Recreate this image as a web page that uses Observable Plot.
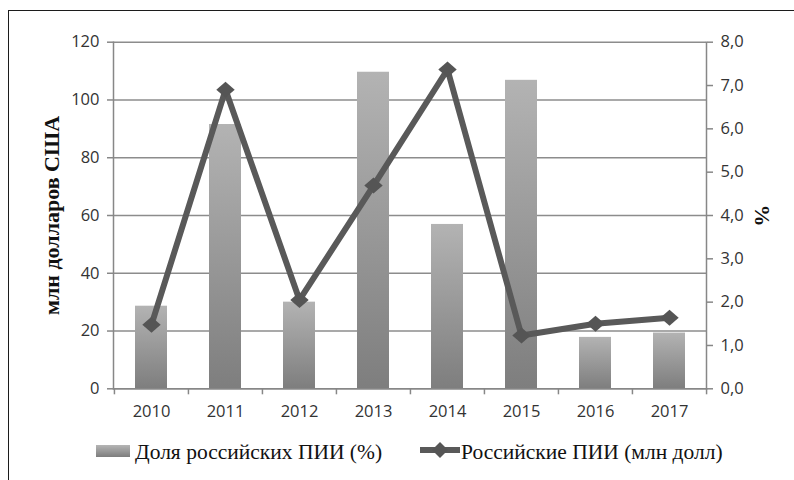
<!DOCTYPE html>
<html><head><meta charset="utf-8">
<script src="https://cdn.jsdelivr.net/npm/d3@7"></script>
<script src="https://cdn.jsdelivr.net/npm/@observablehq/plot@0.6"></script>
<style>
html,body{margin:0;padding:0;background:#fff;width:794px;height:480px;overflow:hidden;}
#border{position:absolute;left:8px;top:10px;width:820px;height:500px;border-left:1.5px solid #1c1c1c;border-top:1.5px solid #1c1c1c;}
#chart{position:absolute;left:0;top:0;}
.leg{position:absolute;font-family:"Liberation Serif","Times New Roman",serif;font-size:21.5px;color:#111;white-space:nowrap;line-height:1;}
.sw{position:absolute;}
</style></head><body>
<div id="border"></div>
<div id="chart"></div>
<div id="legend"></div>
<script>
// ---- data ----
const years = ["2010","2011","2012","2013","2014","2015","2016","2017"];
const barValues = [28.6, 91.5, 30.0, 109.6, 56.9, 106.8, 17.8, 19.3];   // left axis
const lineValues = [1.48, 6.90, 2.05, 4.69, 7.37, 1.23, 1.50, 1.64];    // right axis
const leftTicks = [0, 20, 40, 60, 80, 100, 120];
const rightTicks = [0, 1, 2, 3, 4, 5, 6, 7, 8];
const leftTitle = "млн долларов США";
const rightTitle = "%";
const barLabel = "Доля российских ПИИ (%)";
const lineLabel = "Российские ПИИ (млн долл)";
const leftMax = 120, rightMax = 8;
const k = leftMax / rightMax;

const rows = years.map((year, i) => ({year, bar: barValues[i], line: lineValues[i]}));

const W = 794, H = 430;
const mL = 113, mR = 88, mT = 41.7, mB = 41.7;
const step = (W - mL - mR) / years.length;
const axisGray = "#878787";
const sans = "'Open Sans', sans-serif";
const serif = "'Liberation Serif', 'Times New Roman', serif";

const diamond = {
  draw(ctx, size) {
    const r = Math.sqrt(size / Math.PI);
    const w = r * 1.15, h = r;
    ctx.moveTo(0, -h); ctx.lineTo(w, 0); ctx.lineTo(0, h); ctx.lineTo(-w, 0); ctx.closePath();
  }
};

const svg = Plot.plot({
  width: W, height: H,
  marginLeft: mL, marginRight: mR, marginTop: mT, marginBottom: mB,
  style: {fontFamily: sans, fontSize: "16.5px", background: "transparent", overflow: "visible"},
  x: {type: "band", domain: years, paddingInner: 0.57, paddingOuter: 0.285},
  y: {domain: [0, leftMax]},
  marks: [
    Plot.gridY(leftTicks, {stroke: "#8c8c8c", strokeOpacity: 1, strokeWidth: 1.4}),
    Plot.barY(rows, {x: "year", y: "bar", fill: "url(#barGrad)"}),
    Plot.frame({anchor: "left", stroke: axisGray, strokeWidth: 1.5}),
    Plot.frame({anchor: "right", stroke: axisGray, strokeWidth: 1.5}),
    Plot.frame({anchor: "bottom", stroke: axisGray, strokeWidth: 1.5}),
    Plot.axisY(leftTicks, {anchor: "left", tickSize: 6, tickPadding: 8, stroke: axisGray, strokeWidth: 1.5, fill: "#333", label: null, fontSize: 16.5}),
    Plot.axisY(rightTicks.map(v => v * k), {anchor: "right", tickSize: 6, tickPadding: 8, stroke: axisGray, strokeWidth: 1.5, fill: "#333", label: null, fontSize: 16.5,
      tickFormat: d => (d / k).toFixed(1).replace(".", ",")}),
    Plot.axisX({tickSize: 0, tickPadding: 16, fill: "#333", label: null, fontSize: 16.5}),
    Plot.ruleX(years, {x: d => d, dx: -step / 2, insetTop: H - mT - mB, insetBottom: -6, stroke: axisGray, strokeWidth: 1.5}),
    Plot.ruleX(years.slice(-1), {x: d => d, dx: step / 2, insetTop: H - mT - mB, insetBottom: -6, stroke: axisGray, strokeWidth: 1.5}),
    Plot.lineY(rows, {x: "year", y: d => d.line * k, stroke: "#595959", strokeWidth: 6, strokeLinejoin: "miter"}),
    Plot.dot(rows, {x: "year", y: d => d.line * k, symbol: diamond, r: 8, fill: "#555", stroke: null}),
    Plot.text([leftTitle], {text: d => d, frameAnchor: "left", dx: -62, rotate: -90, textAnchor: "middle", lineAnchor: "middle", fontWeight: "bold", fontSize: 22, fontFamily: serif, fill: "#111"}),
    Plot.text([rightTitle], {text: d => d, frameAnchor: "right", dx: 56, rotate: 90, textAnchor: "middle", lineAnchor: "middle", fontWeight: "bold", fontSize: 22, fontFamily: serif, fill: "#111"})
  ]
});

d3.select(svg).insert("defs", ":first-child").html(`
  <linearGradient id="barGrad" x1="0" y1="0" x2="0" y2="1">
    <stop offset="0" stop-color="#b3b3b3"/>
    <stop offset="1" stop-color="#7e7e7e"/>
  </linearGradient>
  <filter id="soft" x="-20%" y="-20%" width="140%" height="140%">
    <feGaussianBlur stdDeviation="0.7"/>
  </filter>`);
d3.select(svg).selectAll("g[aria-label='bar'] rect").attr("filter", "url(#soft)");
d3.select(svg).selectAll("g[aria-label='dot'] path").attr("filter", "url(#soft)");
document.getElementById("chart").append(svg);

// ---- legend (HTML, below the svg) ----
const leg = document.getElementById("legend");
leg.innerHTML = `
  <div class="sw" style="left:96px;top:445px;width:34px;height:12px;background:linear-gradient(#b5b5b5,#7d7d7d);filter:blur(0.4px)"></div>
  <div class="leg" style="left:135px;top:442px">${barLabel}</div>
  <svg class="sw" style="left:419px;top:441px" width="42" height="18">
    <line x1="1" y1="9" x2="41" y2="9" stroke="#595959" stroke-width="6"/>
    <path d="M21,1 L29,9 L21,17 L13,9 Z" fill="#555"/>
  </svg>
  <div class="leg" style="left:461px;top:442px">${lineLabel}</div>`;
</script>
</body></html>
